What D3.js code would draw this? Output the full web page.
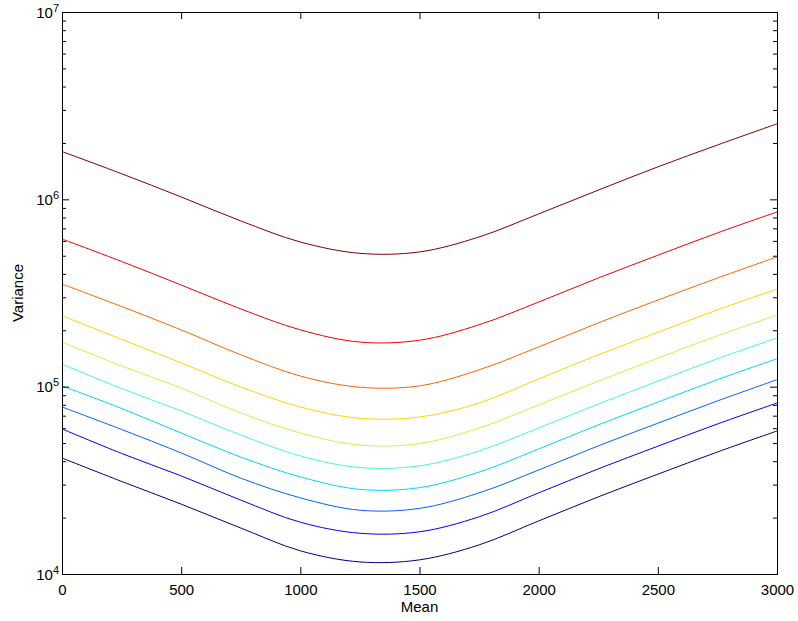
<!DOCTYPE html>
<html>
<head>
  <meta charset="utf-8">
  <style>
  body { margin: 0; background: #fff; }
  text { font-family: "Liberation Sans", Arial, sans-serif; }
  .curve { fill: none; stroke-width: 1; }
  .axis path { display: none; }
  .axis line { stroke: #000; }
  </style>
</head>
<body>
<script src="https://cdn.jsdelivr.net/npm/d3@7"></script>
<script>
// x positions (Mean) where the curves were read
var mean = [0, 250, 500, 750, 1000, 1250, 1500, 1750, 2000, 2250, 2500, 2750, 3000];

// variance curves, lowest (navy) to highest (dark red)
var s1  = [4.16e4, 3.12e4, 2.36e4, 1.76e4, 1.33e4, 1.16e4, 1.19e4, 1.43e4, 1.92e4, 2.58e4, 3.41e4, 4.48e4, 5.80e4];
var s2  = [5.95e4, 4.40e4, 3.34e4, 2.48e4, 1.89e4, 1.65e4, 1.68e4, 2.02e4, 2.71e4, 3.64e4, 4.81e4, 6.32e4, 8.18e4];
var s3  = [7.79e4, 5.91e4, 4.43e4, 3.25e4, 2.55e4, 2.19e4, 2.24e4, 2.71e4, 3.59e4, 4.83e4, 6.38e4, 8.39e4, 1.09e5];
var s4  = [1.01e5, 7.65e4, 5.66e4, 4.21e4, 3.30e4, 2.83e4, 2.89e4, 3.50e4, 4.65e4, 6.25e4, 8.27e4, 1.09e5, 1.41e5];
var s5  = [1.32e5, 9.78e4, 7.42e4, 5.52e4, 4.27e4, 3.70e4, 3.78e4, 4.54e4, 6.02e4, 8.08e4, 1.07e5, 1.41e5, 1.82e5];
var s6  = [1.73e5, 1.29e5, 9.84e4, 7.24e4, 5.66e4, 4.88e4, 4.97e4, 6.02e4, 7.99e4, 1.07e5, 1.42e5, 1.87e5, 2.41e5];
var s7  = [2.39e5, 1.79e5, 1.34e5, 9.96e4, 7.79e4, 6.78e4, 6.89e4, 8.18e4, 1.10e5, 1.48e5, 1.95e5, 2.57e5, 3.32e5];
var s8  = [3.53e5, 2.68e5, 2.01e5, 1.48e5, 1.14e5, 9.93e4, 1.01e5, 1.23e5, 1.63e5, 2.19e5, 2.90e5, 3.80e5, 4.93e5];
var s9  = [6.14e5, 4.66e5, 3.49e5, 2.60e5, 2.01e5, 1.73e5, 1.77e5, 2.14e5, 2.83e5, 3.80e5, 5.03e5, 6.62e5, 8.56e5];
var s10 = [1.80e6, 1.37e6, 1.03e6, 7.67e5, 5.92e5, 5.15e5, 5.24e5, 6.30e5, 8.36e5, 1.12e6, 1.49e6, 1.95e6, 2.53e6];
var series = [s1, s2, s3, s4, s5, s6, s7, s8, s9, s10];

var xTicks = [0, 500, 1000, 1500, 2000, 2500, 3000];
var yTicks = [1e4, 1e5, 1e6, 1e7];

// matlab jet colormap
function jet(t) {
  function c(v) { return Math.round(255 * Math.max(0, Math.min(1, v))); }
  return d3.rgb(c(1.5 - Math.abs(4 * t - 3)), c(1.5 - Math.abs(4 * t - 2)), c(1.5 - Math.abs(4 * t - 1))).toString();
}

var width = 798, height = 621;
var mLeft = 62, mRight = 777, mTop = 12, mBottom = 574;

var svg = d3.select("body").append("svg")
    .attr("width", width)
    .attr("height", height);

var x = d3.scaleLinear().domain([0, 3000]).range([mLeft, mRight]);
var y = d3.scaleLog().domain([1e4, 1e7]).range([mBottom, mTop]);

// minor ticks for the log axis
var minor = [];
[1e4, 1e5, 1e6].forEach(function(d) {
  for (var k = 2; k <= 9; k++) minor.push(d * k);
});

var line = d3.line()
    .x(function(d, i) { return x(mean[i]); })
    .y(function(d) { return y(d); })
    .curve(d3.curveCatmullRom);

svg.append("g").selectAll("path")
    .data(series)
  .enter().append("path")
    .attr("class", "curve")
    .attr("stroke", function(d, i) { return jet(i / (series.length - 1)); })
    .attr("d", line);

// bottom / top
svg.append("g").attr("class", "axis")
    .attr("transform", "translate(0," + mBottom + ")")
    .call(d3.axisBottom(x).tickValues(xTicks).tickSize(-7).tickSizeOuter(0).tickPadding(10).tickFormat(d3.format("d")))
    .selectAll("text").attr("font-size", 15).attr("font-family", "Liberation Sans, Arial, sans-serif").attr("fill", "#000");

svg.append("g").attr("class", "axis")
    .attr("transform", "translate(0," + mTop + ")")
    .call(d3.axisTop(x).tickValues(xTicks).tickSize(-7).tickSizeOuter(0).tickFormat(""));

// left / right, majors
var yl = svg.append("g").attr("class", "axis")
    .attr("transform", "translate(" + mLeft + ",0)")
    .call(d3.axisLeft(y).tickValues(yTicks).tickSize(-7).tickSizeOuter(0).tickPadding(3));

yl.selectAll("text")
    .attr("font-size", 15)
    .attr("font-family", "Liberation Sans, Arial, sans-serif")
    .attr("fill", "#000")
    .attr("dy", "0.35em")
    .each(function(d) {
      var t = d3.select(this).text("10");
      t.append("tspan")
        .attr("dy", "-0.55em")
        .attr("font-size", 11)
        .text(Math.round(Math.log10(d)));
    });

svg.append("g").attr("class", "axis")
    .attr("transform", "translate(" + mRight + ",0)")
    .call(d3.axisRight(y).tickValues(yTicks).tickSize(-7).tickSizeOuter(0).tickFormat(""));

// minors
svg.append("g").attr("class", "axis")
    .attr("transform", "translate(" + mLeft + ",0)")
    .call(d3.axisLeft(y).tickValues(minor).tickSize(-4).tickSizeOuter(0).tickFormat(""));
svg.append("g").attr("class", "axis")
    .attr("transform", "translate(" + mRight + ",0)")
    .call(d3.axisRight(y).tickValues(minor).tickSize(-4).tickSizeOuter(0).tickFormat(""));

// box
svg.append("rect")
    .attr("x", mLeft + 0.5)
    .attr("y", mTop + 0.5)
    .attr("width", mRight - mLeft)
    .attr("height", mBottom - mTop)
    .attr("fill", "none")
    .attr("stroke", "#000");

svg.append("text")
    .attr("x", (mLeft + mRight) / 2)
    .attr("y", 612)
    .attr("text-anchor", "middle")
    .attr("font-size", 15)
    .text("Mean");

svg.append("text")
    .attr("transform", "translate(23," + ((mTop + mBottom) / 2) + ") rotate(-90)")
    .attr("text-anchor", "middle")
    .attr("font-size", 15)
    .text("Variance");
</script>
</body>
</html>
